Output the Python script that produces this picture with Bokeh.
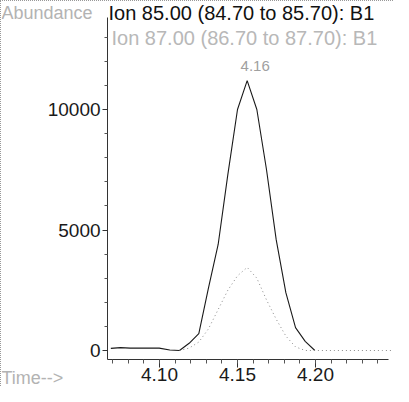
from bokeh.plotting import figure
from bokeh.models import Label, FixedTicker, PrintfTickFormatter, Range1d
from bokeh.embed import file_html
from bokeh.resources import INLINE

# Ion 85 trace (solid)
t85 = [4.0688, 4.0750, 4.0812, 4.0874, 4.0936, 4.0998, 4.1066,
       4.1128, 4.1190, 4.1252, 4.1314, 4.1376, 4.1438, 4.1500, 4.1562,
       4.1624, 4.1686, 4.1748, 4.1810, 4.1872, 4.1934, 4.1996]
a85 = [90, 120, 100, 100, 100, 100, 20,
       0, 300, 700, 2600, 4400, 7300, 10000, 11200,
       10000, 7500, 4600, 2400, 950, 380, 0]

# Ion 87 trace (dotted)
t87 = [4.1128, 4.1190, 4.1252, 4.1314, 4.1376, 4.1438, 4.1500, 4.1562,
       4.1624, 4.1686, 4.1748, 4.1810, 4.1872, 4.1934, 4.1996,
       4.2058, 4.2120, 4.2182, 4.2244, 4.2306, 4.2368, 4.2430, 4.2492]
a87 = [0, 100, 350, 900, 1700, 2500, 3100, 3450,
       3000, 2100, 1300, 600, 150, 0, 0,
       0, 0, 0, 0, 0, 0, 0, 0]

x_major = [4.10, 4.15, 4.20]
x_minor = [4.07, 4.08, 4.09, 4.10, 4.11, 4.12, 4.13, 4.14, 4.15, 4.16,
           4.17, 4.18, 4.19, 4.20, 4.21, 4.22, 4.23, 4.24]
y_major = [0, 5000, 10000]
y_minor = [1000, 2000, 3000, 4000, 6000, 7000, 8000, 9000, 11000, 12000, 13000]

title1 = "Ion 85.00 (84.70 to 85.70): B1"
title2 = "Ion 87.00 (86.70 to 87.70): B1"
ylab = "Abundance"
xlab = "Time-->"
peak_label = "4.16"
peak_t = 4.1562
peak_a = 11200

# axis extents (data units)
t_start, t_end = 4.0667, 4.247
a_axis, a_top = -373, 13817

FONT = "Liberation Sans"

p = figure(width=393, height=386, output_backend="svg", toolbar_location=None,
           x_range=Range1d(3.99872, 4.25064), y_range=Range1d(-1535, 14481),
           min_border_left=0, min_border_right=0, min_border_top=0,
           min_border_bottom=0)
p.outline_line_color = None
p.xgrid.visible = False
p.ygrid.visible = False
p.background_fill_color = "white"
p.border_fill_color = "white"

p.line(t85, a85, line_color="#1a1a1a", line_width=1.1)
p.line(t87, a87, line_color="#8a8a8a", line_width=1.0, line_dash="1 3")

for ax in (p.xaxis[0], p.yaxis[0]):
    ax.axis_line_color = "#333333"
    ax.major_tick_line_color = "#333333"
    ax.minor_tick_line_color = "#555555"
    ax.major_label_text_font = FONT
    ax.major_label_text_font_size = "19px"
    ax.major_label_text_color = "#1a1a1a"
    ax.major_tick_in = 0
    ax.minor_tick_in = 0

xa = p.xaxis[0]
xa.fixed_location = a_axis
xa.bounds = (t_start, t_end)
xa.ticker = FixedTicker(ticks=x_major, minor_ticks=x_minor)
xa.formatter = PrintfTickFormatter(format="%.2f")
xa.major_tick_out = 8
xa.minor_tick_out = 4
xa.major_label_standoff = 1

ya = p.yaxis[0]
ya.fixed_location = t_start
ya.bounds = (a_axis, a_top)
ya.ticker = FixedTicker(ticks=y_major, minor_ticks=y_minor)
ya.major_tick_out = 5
ya.minor_tick_out = 3
ya.major_label_standoff = 2

p.add_layout(Label(x=107, y=375, x_units="screen", y_units="screen", text=title1,
                   text_font=FONT, text_font_size="20px", text_color="#111111",
                   text_baseline="middle"))
p.add_layout(Label(x=0, y=375, x_units="screen", y_units="screen", text=ylab,
                   text_font=FONT, text_font_size="18px", text_color="#b3b3b3",
                   text_baseline="middle"))
p.add_layout(Label(x=0, y=10, x_units="screen", y_units="screen", text=xlab,
                   text_font=FONT, text_font_size="18px", text_color="#b3b3b3",
                   text_baseline="middle"))
p.add_layout(Label(x=110, y=350, x_units="screen", y_units="screen", text=title2,
                   text_font=FONT, text_font_size="20px", text_color="#b8b8b8",
                   text_baseline="middle"))
p.add_layout(Label(x=peak_t, y=peak_a, y_offset=15, x_offset=8, text=peak_label,
                   text_font=FONT, text_font_size="15px", text_color="#a0a0a0",
                   text_align="center", text_baseline="middle"))

p.styles = {"border-left": "1px dotted #999999", "border-top": "1px dotted #999999"}

open("out.html", "w").write(file_html(p, INLINE))
